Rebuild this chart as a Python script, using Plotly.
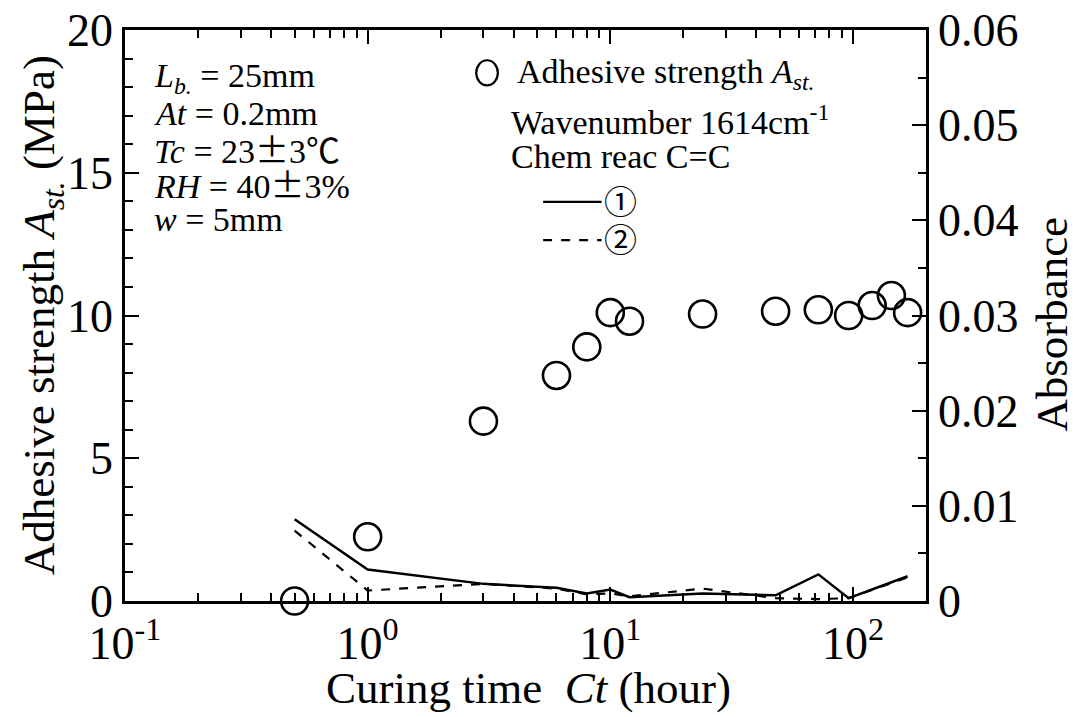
import plotly.graph_objects as go

# Curing time (hour) for the adhesive strength tests
cure_hours = [0.5, 1, 3, 6, 8, 10, 12, 24, 48, 72, 96, 120, 144, 168]
# Adhesive strength A_st. (MPa)
strength_mpa = [0.0, 2.25, 6.3, 7.9, 8.9, 10.1, 9.8, 10.05, 10.15, 10.2, 10.0, 10.35, 10.7, 10.1]

# FT-IR absorbance at 1614 cm^-1 (C=C), two specimens
abs_hours = [0.5, 1, 3, 6, 8, 10, 12, 24, 48, 72, 96, 168]
absorb_1 = [0.0086, 0.0033, 0.0018, 0.0014, 0.0008, 0.0012, 0.0004, 0.0008, 0.0006, 0.0028, 0.0003, 0.0026]
absorb_2 = [0.0074, 0.0011, 0.0018, 0.0013, 0.0007, 0.0008, 0.0005, 0.0013, 0.0003, 0.0002, 0.0003, 0.0025]

x_tick_vals = [0.1, 1, 10, 100]
x_tick_text = ["10<sup>-1</sup>", "10<sup>0</sup>", "10<sup>1</sup>", "10<sup>2</sup>"]
y_tick_vals = [0, 5, 10, 15, 20]
y2_tick_vals = [0, 0.01, 0.02, 0.03, 0.04, 0.05, 0.06]
y2_tick_text = ["0", "0.01", "0.02", "0.03", "0.04", "0.05", "0.06"]

FONT = "Liberation Serif"
CJK = "Noto Sans CJK JP"
BLACK = "black"
TEXT_SIZE = 34
TITLE_SIZE = 45


def cjk(s):
    return f'<span style="font-family:{CJK}">{s}</span>'


fig = go.Figure()

fig.add_trace(go.Scatter(
    x=cure_hours, y=strength_mpa, mode="markers",
    marker=dict(symbol="circle-open", size=27, color=BLACK, line=dict(width=2.6, color=BLACK)),
    showlegend=False, cliponaxis=False,
))
fig.add_trace(go.Scatter(
    x=abs_hours, y=absorb_1, mode="lines", yaxis="y2",
    line=dict(color=BLACK, width=2.5), showlegend=False,
))
fig.add_trace(go.Scatter(
    x=abs_hours, y=absorb_2, mode="lines", yaxis="y2",
    line=dict(color=BLACK, width=2.2, dash="dash"), showlegend=False,
))

axis_common = dict(
    showline=True, linecolor=BLACK, linewidth=2.5, ticks="inside", tickcolor=BLACK,
    tickwidth=2, ticklen=14, showgrid=False, zeroline=False, automargin=False,
    tickfont=dict(family=FONT, size=46, color=BLACK),
)
minor_common = dict(ticks="inside", ticklen=8, tickwidth=1.8, tickcolor=BLACK, showgrid=False)

fig.update_layout(
    width=1078, height=717,
    margin=dict(l=125, r=152, t=30, b=116),
    paper_bgcolor="white", plot_bgcolor="white",
    font=dict(family=FONT, color=BLACK),
    xaxis=dict(
        type="log", range=[-1, 2.301], tickvals=x_tick_vals, ticktext=x_tick_text,
        mirror="ticks", minor=dict(dtick="D1", **minor_common),
        **axis_common,
    ),
    yaxis=dict(
        range=[0, 20], tickvals=y_tick_vals, minor=dict(dtick=1, **minor_common),
        **axis_common,
    ),
    yaxis2=dict(
        overlaying="y", side="right", range=[0, 0.06], tickvals=y2_tick_vals, ticktext=y2_tick_text,
        minor=dict(dtick=0.005, **minor_common),
        **axis_common,
    ),
)

# Axis titles
axis_titles = [
    ("Curing time  <i>Ct</i> (hour)", 0.504, -0.152, 0),
    ("Adhesive strength <i>A<sub>st.</sub></i> (MPa)", -0.104, 0.5, -90),
    ("Absorbance", 1.157, 0.485, -90),
]
for t, x, y, ang in axis_titles:
    fig.add_annotation(
        text=t, xref="paper", yref="paper", x=x, y=y, textangle=ang,
        xanchor="center", yanchor="middle", showarrow=False,
        font=dict(family=FONT, size=TITLE_SIZE, color=BLACK),
    )

# Test condition notes (upper-left)
notes = [
    "<i>L<sub>b.</sub></i> = 25mm",
    "<i>At</i> = 0.2mm",
    "<i>Tc</i> = 23" + cjk("±") + "3" + cjk("℃"),
    "<i>RH</i> = 40" + cjk("±") + "3%",
    "<i>w</i> = 5mm",
]
for i, t in enumerate(notes):
    fig.add_annotation(
        text=t, xref="paper", yref="paper", x=0.034, y=0.916 - i * 0.0618,
        xanchor="left", yanchor="middle", showarrow=False,
        font=dict(family=FONT, size=TEXT_SIZE, color=BLACK),
    )

# Key for the marks
fig.add_shape(type="circle", xref="paper", yref="paper",
              x0=0.4385, x1=0.4655, y0=0.903, y1=0.947, line=dict(color=BLACK, width=2.2))
key_lines = [
    ("Adhesive strength <i>A<sub>st.</sub></i>", 0.487, 0.923),
    ("Wavenumber 1614cm<sup>-1</sup>", 0.479, 0.843),
    ("Chem reac C=C", 0.479, 0.778),
]
for t, x, y in key_lines:
    fig.add_annotation(
        text=t, xref="paper", yref="paper", x=x, y=y,
        xanchor="left", yanchor="middle", showarrow=False,
        font=dict(family=FONT, size=TEXT_SIZE, color=BLACK),
    )
fig.add_shape(type="line", xref="paper", yref="paper", x0=0.522, x1=0.595, y0=0.699, y1=0.699,
              line=dict(color=BLACK, width=2.4))
fig.add_shape(type="line", xref="paper", yref="paper", x0=0.522, x1=0.595, y0=0.632, y1=0.632,
              line=dict(color=BLACK, width=2.2, dash="dash"))
for t, y in [("①", 0.702), ("②", 0.635)]:
    fig.add_annotation(
        text=t, xref="paper", yref="paper", x=0.595, y=y,
        xanchor="left", yanchor="middle", showarrow=False,
        font=dict(family=CJK, size=33, color=BLACK),
    )

fig.write_html("out.html")
